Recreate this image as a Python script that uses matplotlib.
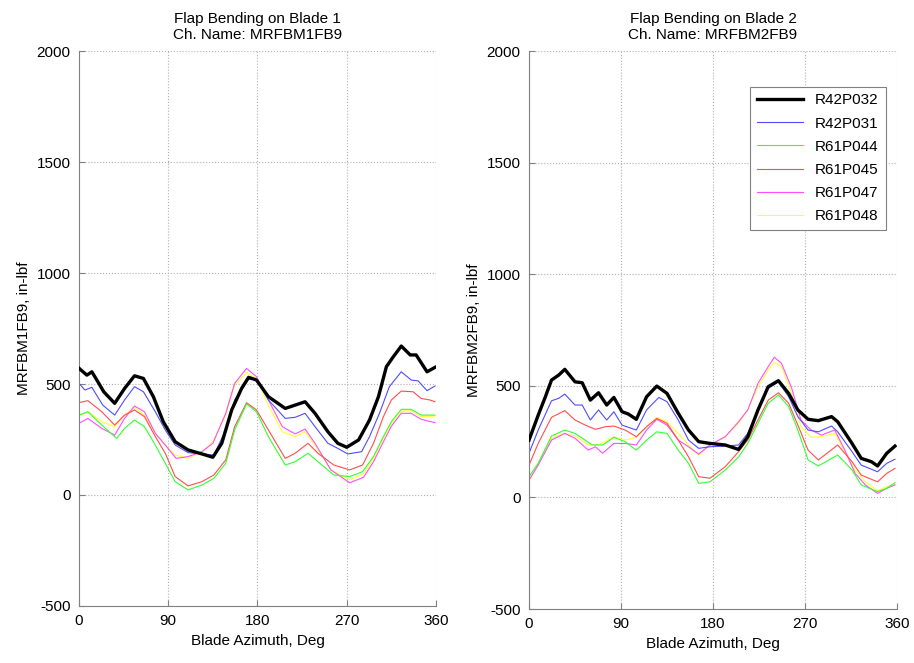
import matplotlib
matplotlib.use('Agg')
import matplotlib.pyplot as plt

plt.rcParams['font.family'] = ['Liberation Sans', 'DejaVu Sans']
plt.rcParams['font.size'] = 11
plt.rcParams['axes.unicode_minus'] = False

labels = ['R42P032', 'R42P031', 'R61P044', 'R61P045', 'R61P047', 'R61P048']
colors = ['black', '#4d4dff', '#33ff33', '#ff4d4d', '#ff4dff', '#ffff33']
widths = [2.4, 0.8, 0.8, 0.8, 0.8, 0.8]

# ---- Blade 1 (left) ----
b1_R42P032_x = [0, 8, 13, 18, 25, 36, 46, 56, 65, 75, 85, 97, 110, 124, 135, 144, 154, 164, 171, 179,
                191, 208, 218, 228, 238, 251, 261, 270, 282, 293, 302, 310, 317, 325, 334, 340, 351, 359]
b1_R42P032_y = [571, 540, 555, 518, 465, 413, 480, 537, 525, 443, 330, 240, 203, 185, 170, 233, 383, 480, 530, 518,
                443, 390, 405, 420, 368, 285, 233, 215, 248, 338, 443, 578, 623, 671, 631, 631, 555, 575]

b1_R42P031_x = [0, 6, 13, 24, 36, 46, 56, 65, 77, 87, 97, 110, 124, 136, 148, 157, 171, 179, 191, 208,
                218, 228, 238, 251, 261, 271, 285, 293, 303, 313, 325, 335, 342, 351, 359]
b1_R42P031_y = [503, 473, 485, 405, 360, 428, 488, 465, 375, 293, 225, 191, 185, 180, 293, 428, 521, 521, 428, 345,
                350, 368, 308, 233, 210, 185, 195, 263, 368, 488, 555, 518, 514, 470, 491]

b1_R61P044_x = [0, 9, 23, 38, 46, 56, 66, 77, 87, 97, 110, 124, 136, 148, 157, 169, 179, 191, 208, 218,
                231, 241, 257, 273, 286, 297, 307, 315, 325, 335, 345, 359]
b1_R61P044_y = [360, 375, 315, 255, 300, 338, 308, 225, 143, 60, 23, 45, 75, 143, 293, 410, 375, 263, 135, 150,
                188, 150, 90, 83, 105, 173, 263, 330, 386, 386, 360, 360]

b1_R61P045_x = [0, 9, 23, 36, 46, 56, 66, 77, 87, 97, 110, 124, 136, 148, 157, 169, 179, 191, 208, 218,
                231, 241, 257, 273, 286, 297, 307, 315, 325, 337, 345, 354, 359]
b1_R61P045_y = [416, 425, 375, 315, 360, 383, 353, 263, 188, 83, 41, 60, 90, 158, 308, 416, 383, 293, 165, 188,
                233, 188, 135, 113, 135, 233, 353, 428, 468, 465, 435, 428, 420]

b1_R61P047_x = [0, 9, 23, 36, 46, 56, 66, 77, 87, 98, 110, 124, 135, 148, 157, 169, 179, 191, 205, 218,
                228, 238, 254, 273, 287, 297, 307, 315, 325, 335, 345, 359]
b1_R61P047_y = [323, 345, 300, 270, 345, 401, 375, 278, 225, 165, 173, 195, 233, 368, 503, 570, 533, 428, 308, 275,
                297, 233, 113, 55, 80, 150, 240, 310, 368, 368, 341, 326]

b1_R61P048_x = [0, 9, 23, 36, 46, 56, 66, 77, 87, 97, 110, 124, 135, 148, 157, 169, 179, 191, 205, 218,
                228, 238, 254, 273, 287, 297, 307, 315, 325, 335, 345, 359]
b1_R61P048_y = [356, 375, 330, 308, 360, 395, 360, 278, 225, 180, 165, 195, 240, 360, 495, 551, 525, 405, 285, 263,
                285, 225, 113, 68, 95, 165, 255, 322, 378, 380, 352, 356]

# ---- Blade 2 (right) ----
b2_R42P032_x = [0, 9, 16, 22, 29, 35, 45, 52, 60, 68, 76, 83, 91, 97, 105, 115, 125, 135, 146, 156,
                166, 177, 192, 205, 214, 224, 234, 244, 254, 263, 273, 283, 296, 302, 316, 325, 335, 341, 350, 358]
b2_R42P032_y = [257, 369, 451, 526, 548, 574, 518, 514, 436, 469, 414, 448, 384, 374, 350, 451, 499, 466, 377, 302,
                250, 242, 235, 215, 272, 392, 496, 523, 466, 392, 350, 344, 362, 339, 242, 175, 160, 141, 198, 230]

b2_R42P031_x = [0, 9, 22, 29, 35, 45, 52, 60, 68, 76, 83, 91, 105, 115, 127, 135, 146, 156, 166, 177,
                192, 205, 214, 224, 234, 244, 254, 263, 273, 283, 296, 302, 316, 325, 341, 350, 358]
b2_R42P031_y = [198, 302, 433, 444, 463, 414, 414, 347, 392, 347, 384, 324, 302, 392, 448, 429, 347, 257, 220, 227,
                230, 235, 287, 392, 489, 518, 451, 362, 302, 294, 320, 294, 205, 145, 115, 153, 171]

b2_R61P044_x = [0, 9, 22, 35, 45, 50, 62, 72, 83, 94, 105, 115, 125, 135, 146, 156, 166, 177, 192, 205,
                214, 224, 234, 244, 254, 263, 273, 283, 302, 316, 325, 341, 350, 358]
b2_R61P044_y = [93, 153, 275, 302, 287, 272, 235, 235, 269, 250, 212, 257, 294, 287, 212, 153, 63, 70, 123, 182,
                242, 332, 422, 459, 407, 302, 168, 141, 190, 123, 56, 26, 41, 66]

b2_R61P045_x = [0, 9, 22, 35, 45, 55, 65, 75, 83, 94, 105, 115, 125, 135, 146, 156, 166, 177, 192, 205,
                214, 224, 234, 244, 254, 263, 273, 283, 302, 316, 325, 341, 350, 358]
b2_R61P045_y = [145, 242, 359, 389, 347, 324, 305, 317, 320, 302, 272, 317, 354, 332, 257, 182, 93, 86, 138, 205,
                257, 347, 436, 469, 422, 324, 212, 168, 235, 160, 100, 70, 108, 130]

b2_R61P047_x = [0, 9, 22, 35, 45, 58, 65, 72, 83, 94, 105, 115, 125, 135, 146, 156, 166, 177, 192, 205,
                214, 224, 234, 240, 247, 257, 266, 276, 286, 299, 309, 319, 329, 341, 350, 358]
b2_R61P047_y = [78, 145, 257, 287, 265, 212, 227, 198, 242, 242, 235, 302, 350, 324, 257, 227, 194, 235, 272, 339,
                392, 511, 586, 628, 601, 489, 347, 302, 279, 302, 212, 108, 56, 18, 41, 56]

b2_R61P048_x = [0, 9, 22, 35, 45, 58, 68, 83, 94, 105, 115, 125, 135, 146, 156, 166, 177, 192, 205, 214,
                224, 234, 240, 247, 257, 266, 276, 286, 299, 309, 319, 329, 341, 350, 358]
b2_R61P048_y = [70, 153, 265, 287, 275, 235, 235, 272, 257, 269, 317, 359, 339, 287, 235, 190, 235, 272, 332, 392,
                496, 571, 605, 586, 466, 317, 269, 272, 287, 205, 123, 70, 30, 48, 60]

blade1 = [(b1_R42P032_x, b1_R42P032_y), (b1_R42P031_x, b1_R42P031_y), (b1_R61P044_x, b1_R61P044_y),
          (b1_R61P045_x, b1_R61P045_y), (b1_R61P047_x, b1_R61P047_y), (b1_R61P048_x, b1_R61P048_y)]
blade2 = [(b2_R42P032_x, b2_R42P032_y), (b2_R42P031_x, b2_R42P031_y), (b2_R61P044_x, b2_R61P044_y),
          (b2_R61P045_x, b2_R61P045_y), (b2_R61P047_x, b2_R61P047_y), (b2_R61P048_x, b2_R61P048_y)]

fig = plt.figure(figsize=(9.14, 6.63), dpi=100)
ax1 = fig.add_axes([0.0864, 0.086, 0.3906, 0.837])
ax2 = fig.add_axes([0.5788, 0.0814, 0.4026, 0.8416])

titles = ['Flap Bending on Blade 1\nCh. Name: MRFBM1FB9', 'Flap Bending on Blade 2\nCh. Name: MRFBM2FB9']
ylabels = ['MRFBM1FB9, in-lbf', 'MRFBM2FB9, in-lbf']

for ax, data, title, ylab in zip([ax1, ax2], [blade1, blade2], titles, ylabels):
    lines = {}
    # thin lines first, black on top
    for i in [5, 4, 3, 2, 1, 0]:
        x, y = data[i]
        lines[i], = ax.plot(x, y, color=colors[i], lw=widths[i], label=labels[i], zorder=3 if i == 0 else 2)
    ax.set_xlim(0, 360)
    ax.set_ylim(-500, 2000)
    ax.set_xticks([0, 90, 180, 270, 360])
    ax.set_yticks([-500, 0, 500, 1000, 1500, 2000])
    ax.grid(True, linestyle=':', color='#b0b0b0', lw=0.8)
    for s in ['top', 'right']:
        ax.spines[s].set_visible(False)
    for s in ['left', 'bottom']:
        ax.spines[s].set_color('#808080')
    ax.tick_params(direction='in', color='#808080', length=4, labelsize=11, pad=6)
    ax.set_title(title, fontsize=11, pad=9, linespacing=1.15)
    ax.set_xlabel('Blade Azimuth, Deg', fontsize=11)
    ax.set_ylabel(ylab, fontsize=11)

leg = ax2.legend([lines[i] for i in range(6)], labels, loc='upper right',
                 bbox_to_anchor=(0.99, 0.95), fontsize=11, fancybox=False, framealpha=1,
                 edgecolor='#808080', handlelength=3.0, labelspacing=0.6, borderpad=0.45)
leg.get_frame().set_linewidth(0.8)

fig.savefig('out.png', dpi=100)
